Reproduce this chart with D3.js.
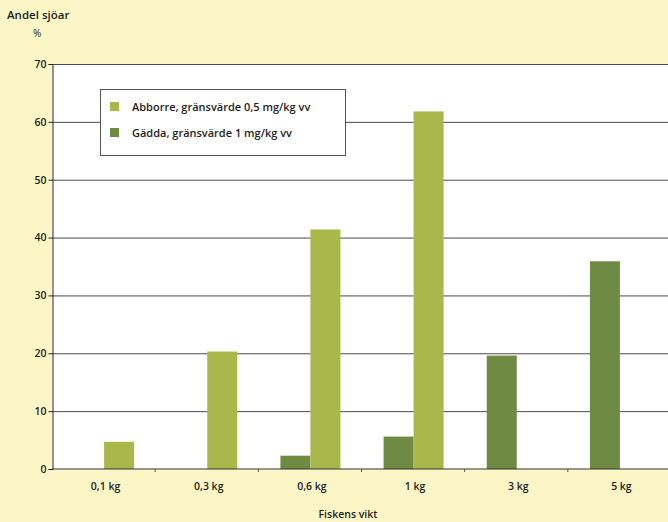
<!DOCTYPE html>
<html>
<head>
<meta charset="utf-8">
<script src="https://cdn.jsdelivr.net/npm/d3@7"></script>
<style>
  html, body { margin: 0; padding: 0; background: #fcf6c6; }
  svg text { font-family: "Open Sans", sans-serif; fill: #1e1e1e; font-weight: 600; }
</style>
</head>
<body>
<svg id="chart" width="668" height="522"></svg>
<script>
// Share of lakes (%) where fish exceed the mercury limit, by fish weight
const categories = ["0,1 kg", "0,3 kg", "0,6 kg", "1 kg", "3 kg", "5 kg"];
const seriesNames = ["Gädda, gränsvärde 1 mg/kg vv", "Abborre, gränsvärde 0,5 mg/kg vv"];
const gaddaValues = [0, 0, 2.3, 5.6, 19.6, 35.9];
const abborreValues = [4.7, 20.3, 41.4, 61.8, 0, 0];
const yTicks = [0, 10, 20, 30, 40, 50, 60, 70];

const colors = { gadda: "#6f8a42", abborre: "#a8b84b" };

const svg = d3.select("#chart");
const plotLeft = 52, plotRight = 671, plotTop = 64, plotBottom = 469;

const x = d3.scaleBand().domain(categories).range([plotLeft, plotRight]).paddingInner(0).paddingOuter(0);
const sub = d3.scaleBand().domain(["gadda", "abborre"]).range([-29.5, 30.5]).padding(0);
const y = d3.scaleLinear().domain([0, 70]).range([plotBottom, plotTop]);

// Plot background
svg.append("rect").attr("x", plotLeft).attr("y", plotTop)
  .attr("width", 668 - plotLeft).attr("height", plotBottom - plotTop).attr("fill", "#ffffff");

// Horizontal gridlines
svg.append("g").selectAll("line").data(yTicks.filter(d => d > 0)).join("line")
  .attr("x1", plotLeft).attr("x2", 668)
  .attr("y1", d => y(d) + 0.5).attr("y2", d => y(d) + 0.5)
  .attr("stroke", "#4a4a4a").attr("stroke-width", 1);

// Bars
const rows = categories.map((c, i) => ({ cat: c, gadda: gaddaValues[i], abborre: abborreValues[i] }));
const groups = svg.append("g").selectAll("g").data(rows).join("g")
  .attr("transform", d => `translate(${x(d.cat) + x.bandwidth() / 2},0)`);
groups.selectAll("rect")
  .data(d => ["gadda", "abborre"].map(k => ({ key: k, value: d[k] })).filter(e => e.value > 0))
  .join("rect")
  .attr("x", d => sub(d.key))
  .attr("width", sub.bandwidth())
  .attr("y", d => y(d.value))
  .attr("height", d => y(0) - y(d.value))
  .attr("fill", d => colors[d.key]);

// Y axis
const yAxis = svg.append("g").attr("transform", `translate(${plotLeft + 0.5},0)`)
  .call(d3.axisLeft(y).tickValues(yTicks).tickSize(4).tickPadding(2).tickFormat(d3.format("d")));
yAxis.select(".domain").attr("stroke", "#222");
yAxis.selectAll(".tick line").attr("stroke", "#222");
yAxis.selectAll("text").style("font-size", "10.5px").attr("fill", "#333");

// X axis with ticks between categories
svg.append("line").attr("x1", plotLeft).attr("x2", 668).attr("y1", plotBottom).attr("y2", plotBottom)
  .attr("stroke", "#333").attr("stroke-width", 1.2);
svg.append("g").selectAll("line").data(categories.slice(1)).join("line")
  .attr("x1", d => x(d)).attr("x2", d => x(d))
  .attr("y1", plotBottom).attr("y2", plotBottom + 3)
  .attr("stroke", "#555");
svg.append("g").selectAll("text").data(categories).join("text")
  .attr("x", d => x(d) + x.bandwidth() / 2 + 2)
  .attr("y", 490)
  .attr("text-anchor", "middle")
  .style("font-size", "10.5px")
  .text(d => d);

// Axis titles
svg.append("text").attr("x", 7).attr("y", 19).style("font-size", "11.5px").text("Andel sjöar");
svg.append("text").attr("x", 33).attr("y", 37).style("font-size", "10px").style("font-weight", "400").attr("fill", "#666").text("%");
svg.append("text").attr("x", 348).attr("y", 518).attr("text-anchor", "middle")
  .style("font-size", "10.5px").text("Fiskens vikt");

// Legend
const legend = svg.append("g");
legend.append("rect").attr("x", 100.5).attr("y", 89.5).attr("width", 245).attr("height", 66)
  .attr("fill", "#ffffff").attr("stroke", "#555");
const legendItems = [
  { name: seriesNames[1], color: colors.abborre },
  { name: seriesNames[0], color: colors.gadda }
];
const li = legend.selectAll("g").data(legendItems).join("g")
  .attr("transform", (d, i) => `translate(110,${102 + i * 26})`);
li.append("rect").attr("width", 9).attr("height", 9).attr("fill", d => d.color);
li.append("text").attr("x", 22).attr("y", 9).style("font-size", "11px").text(d => d.name);
</script>
</body>
</html>
